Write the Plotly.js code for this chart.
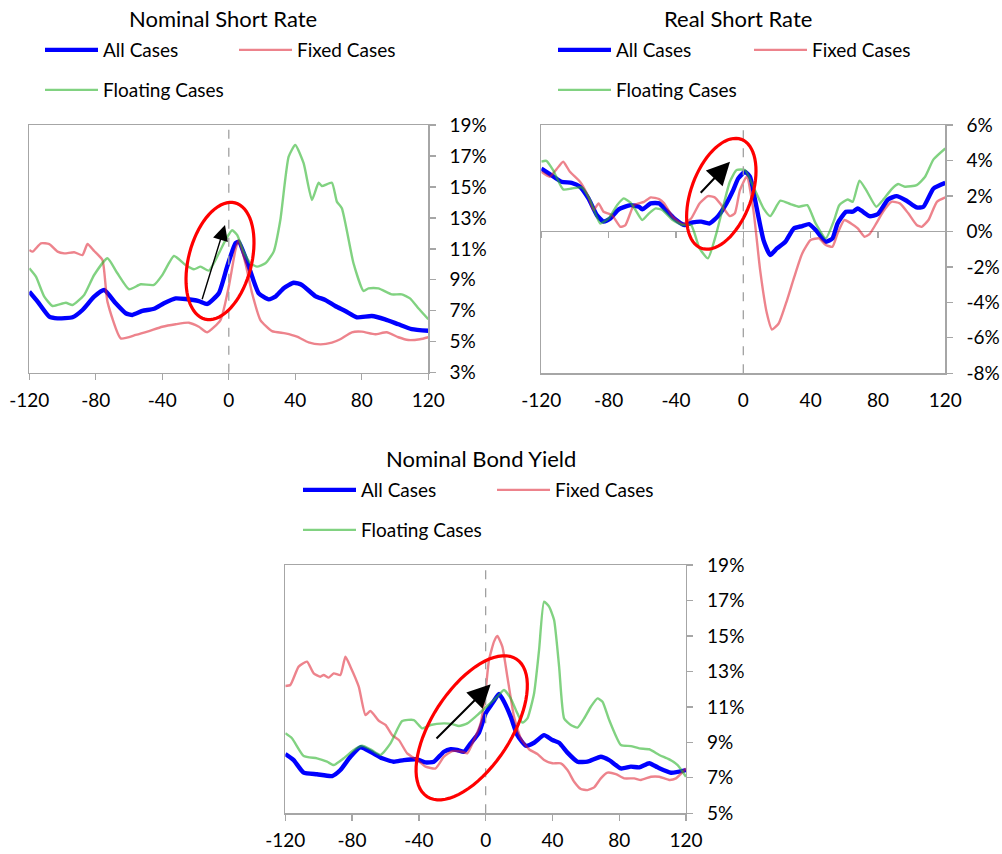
<!DOCTYPE html>
<html>
<head>
<meta charset="utf-8">
<script src="https://cdn.plot.ly/plotly-3.0.1.min.js"></script>
<style>html,body{margin:0;padding:0;background:#fff;}#chart{width:1002px;height:854px;}</style>
</head>
<body>
<div id="chart"></div>
<script>
// ---------- DATA ----------
// Panel 1: Nominal Short Rate (%)
const nsrAllX = [-120,-115,-108,-103,-94,-88,-81,-75,-68,-62,-58,-52,-45,-39,-32,-26,-18,-13,-6,-1,4,6,12,18,24,28,33,39,44,52,58,64,70,77,86,94,102,110,120];
const nsrAllY = [8.23,7.59,6.62,6.51,6.58,7.05,7.91,8.34,7.48,6.84,6.73,6.99,7.13,7.48,7.80,7.76,7.63,7.44,8.13,9.85,11.36,11.46,9.85,8.13,7.74,7.91,8.45,8.81,8.67,7.95,7.70,7.31,6.99,6.58,6.66,6.45,6.13,5.82,5.71];
const nsrFixX = [-120,-118,-113,-108,-103,-99,-93,-88,-85,-81,-76,-73,-65,-56,-48,-40,-32,-24,-18,-13,-5,0,4,6,10,14,19,26,34,41,48,55,62,67,74,80,88,95,102,108,115,120];
const nsrFixY = [10.93,10.82,11.36,11.31,10.82,10.71,10.78,10.60,11.31,10.86,10.28,7.59,5.22,5.44,5.69,5.97,6.13,6.23,5.97,5.61,6.40,8.56,10.93,11.57,10.07,8.13,6.40,5.69,5.54,5.33,4.96,4.83,4.94,5.16,5.61,5.65,5.48,5.61,5.29,5.11,5.16,5.29];
const nsrFloX = [-120,-116,-111,-106,-98,-94,-87,-81,-73,-67,-60,-53,-45,-40,-33,-26,-21,-17,-12,-6,-2,2,5,9,13,17,22,27,31,36,40,45,50,54,56,62,65,68,75,81,84,90,98,104,109,114,120];
const nsrFloY = [9.74,9.20,7.91,7.31,7.52,7.37,8.02,9.31,10.39,9.42,8.39,8.71,8.67,9.31,10.54,9.96,9.68,9.85,9.59,10.71,11.57,12.20,11.90,10.82,10.07,9.85,10.07,10.82,12.86,16.95,17.71,16.53,14.16,15.27,15.06,15.27,14.05,13.62,10.07,8.28,8.45,8.45,8.06,8.06,7.80,7.16,6.45];

// Panel 2: Real Short Rate (%)
const rsrAllX = [-120,-115,-108,-102,-97,-92,-87,-83,-79,-74,-67,-62,-60,-55,-50,-46,-41,-35,-30,-25,-20,-15,-10,-6,-3,1,4,7,12,16,20,25,30,35,39,43,49,53,56,61,65,68,71,75,80,86,91,97,103,107,113,120];
const rsrAllY = [3.55,3.23,2.80,2.74,2.52,1.86,0.92,0.55,0.73,1.24,1.48,1.39,1.24,1.58,1.58,1.20,0.73,0.36,0.51,0.55,0.45,0.86,1.58,2.33,2.99,3.36,3.08,1.77,-0.49,-1.33,-0.96,-0.58,0.17,0.30,0.41,0.08,-0.58,-0.39,0.45,1.11,1.11,1.30,1.11,0.86,0.98,1.80,1.99,1.73,1.35,1.39,2.42,2.74];
const rsrFixX = [-120,-115,-111,-107,-103,-97,-92,-89,-86,-83,-78,-73,-70,-65,-59,-55,-50,-47,-42,-36,-31,-26,-21,-17,-13,-8,-5,-2,2,6,10,14,17,21,26,30,35,40,45,49,53,56,60,64,68,72,75,79,83,88,93,98,103,106,110,115,120];
const rsrFixY = [3.36,3.08,3.50,3.93,3.36,2.80,1.95,1.20,1.58,1.11,0.92,0.26,0.36,1.48,1.67,1.92,1.82,1.58,0.83,0.41,0.73,1.58,1.99,1.92,1.48,0.86,1.02,2.33,3.08,1.20,-2.18,-4.62,-5.53,-5.19,-3.87,-2.65,-1.24,-0.49,-0.39,-0.77,-0.86,-0.11,0.64,0.45,0.17,-0.30,-0.15,0.45,1.11,1.67,1.58,1.02,0.36,0.26,0.64,1.67,1.92];
const rsrFloX = [-120,-117,-113,-107,-102,-96,-91,-85,-80,-75,-71,-67,-64,-60,-56,-52,-48,-42,-36,-31,-26,-21,-16,-12,-8,-4,1,6,12,16,22,28,33,38,43,49,54,57,62,65,69,73,79,83,88,92,96,103,108,113,120];
const rsrFloY = [3.93,3.98,3.46,2.37,2.42,2.48,1.77,0.45,0.73,1.48,1.86,1.62,1.20,0.64,1.02,1.30,1.20,0.64,0.36,0.36,-0.96,-1.52,-0.11,1.39,2.80,3.46,3.46,2.52,1.30,0.86,1.73,1.54,1.39,1.48,0.45,-0.39,0.64,1.48,1.80,1.67,2.86,2.33,1.39,1.77,2.37,2.67,2.52,2.61,3.08,4.06,4.68];

// Panel 3: Nominal Bond Yield (%)
const nbyAllX = [-120,-115,-109,-101,-92,-87,-81,-75,-69,-62,-55,-49,-41,-36,-31,-25,-21,-17,-13,-9,-4,0,4,8,11,15,19,24,29,35,40,44,49,55,61,69,74,81,87,92,98,103,111,120];
const nbyAllY = [8.34,8.00,7.29,7.20,7.10,7.44,8.19,8.72,8.47,8.10,7.91,8.00,8.04,7.87,7.91,8.47,8.61,8.57,8.47,8.94,9.55,10.64,11.20,11.73,11.29,10.45,9.41,8.81,8.98,9.41,9.13,8.98,8.42,7.91,7.91,8.19,8.00,7.53,7.63,7.59,7.82,7.59,7.29,7.44];
const nbyFixX = [-120,-117,-112,-107,-103,-99,-97,-94,-91,-87,-84,-81,-76,-72,-69,-64,-60,-56,-52,-47,-41,-36,-30,-25,-20,-14,-11,-7,-3,0,2,5,7,10,13,17,21,26,31,35,40,45,49,53,57,61,65,69,73,78,83,89,93,99,104,110,114,120];
const nbyFixY = [12.18,12.23,13.27,13.55,12.89,12.70,12.80,12.65,12.89,12.80,13.83,13.27,12.14,10.54,10.77,10.22,9.98,9.41,9.13,8.38,8.00,7.63,7.53,8.19,8.51,8.47,8.38,9.13,10.07,11.95,13.64,14.68,15.00,14.40,12.70,10.45,9.23,8.61,8.34,8.00,7.82,7.82,7.44,6.78,6.37,6.31,6.46,6.97,7.29,7.21,6.97,6.97,6.88,7.06,7.06,6.88,6.97,7.53];
const nbyFloX = [-120,-116,-109,-101,-95,-91,-85,-79,-74,-69,-63,-57,-50,-43,-38,-33,-25,-20,-16,-11,-5,1,7,11,15,19,22,25,29,32,35,38,41,44,47,51,55,59,63,67,70,74,81,87,92,98,104,110,115,120];
const nbyFloY = [9.51,9.23,8.23,8.10,7.91,7.72,8.10,8.57,8.81,8.61,8.29,8.94,10.20,10.26,9.79,9.98,10.07,10.03,9.92,10.07,10.54,11.05,11.58,11.95,11.48,10.64,10.11,10.35,11.76,14.21,16.93,16.65,15.90,13.27,10.35,9.98,9.83,10.35,11.01,11.48,11.29,10.26,8.85,8.79,8.66,8.61,8.29,8.04,7.72,7.06];

const seriesNames = ['All Cases', 'Fixed Cases', 'Floating Cases'];
const xTickVals = [-120,-80,-40,0,40,80,120];
const xTickText = ['-120','-80','-40','0','40','80','120'];
const nomTickVals = [3,5,7,9,11,13,15,17,19];
const nomTickText = ['3%','5%','7%','9%','11%','13%','15%','17%','19%'];
const bondTickVals = [5,7,9,11,13,15,17,19];
const bondTickText = ['5%','7%','9%','11%','13%','15%','17%','19%'];
const realTickVals = [-8,-6,-4,-2,0,2,4,6];
const realTickText = ['-8%','-6%','-4%','-2%','0%','2%','4%','6%'];
const panelTitles = ['Nominal Short Rate', 'Real Short Rate', 'Nominal Bond Yield'];

// ---------- STYLE ----------
const W = 1002, H = 854;
const FONT = 'Lato, "Open Sans", sans-serif';
const blue = '#0000FF';
const pink = 'rgba(222,30,45,0.55)';
const green = 'rgba(45,180,45,0.6)';
const frame = '#A6A6A6';
const px = v => v / W;
const py = v => 1 - v / H;

const panels = [
  {xa:'x',  ya:'y',  x0:29.3,  x1:428.3, y0:125, y1:372.7, title:panelTitles[0], tcx:222.5, tcy:18,
   data:[[nsrAllX,nsrAllY],[nsrFixX,nsrFixY],[nsrFloX,nsrFloY]], yr:[3,19], tv:nomTickVals, tt:nomTickText,
   leg:[[45,50],[239,50],[45,90]]},
  {xa:'x2', ya:'y2', x0:541.3, x1:945.3, y0:125, y1:373.3, title:panelTitles[1], tcx:738, tcy:18,
   data:[[rsrAllX,rsrAllY],[rsrFixX,rsrFixY],[rsrFloX,rsrFloY]], yr:[-8,6], tv:realTickVals, tt:realTickText,
   leg:[[558,50],[754,50],[558,90]]},
  {xa:'x3', ya:'y3', x0:285.3, x1:686, y0:565, y1:813.3, title:panelTitles[2], tcx:480.5, tcy:458,
   data:[[nbyAllX,nbyAllY],[nbyFixX,nbyFixY],[nbyFloX,nbyFloY]], yr:[5,19], tv:bondTickVals, tt:bondTickText,
   leg:[[303,490],[497,490],[303,530]]}
];
const lineStyles = [
  {color: blue, width: 4.4, shape: 'spline', smoothing: 0.5},
  {color: pink, width: 2.4, shape: 'spline', smoothing: 0.5},
  {color: green, width: 2.4, shape: 'spline', smoothing: 0.5}
];

const traces = [];
const layout = {
  width: W, height: H, margin: {l:0, r:0, t:0, b:0},
  paper_bgcolor: '#fff', plot_bgcolor: '#fff',
  font: {family: FONT, size: 19, color: '#000'},
  showlegend: true, shapes: [], annotations: []
};

const LEG_OFFSET = 5; // legend line sample starts 5px inside legend box
let legIdx = 0;
panels.forEach((p, pi) => {
  const sfx = pi === 0 ? '' : String(pi + 1);
  p.data.forEach((d, si) => {
    legIdx++;
    const legName = legIdx === 1 ? 'legend' : 'legend' + legIdx;
    traces.push({
      type: 'scatter', mode: 'lines', x: d[0], y: d[1], name: seriesNames[si],
      xaxis: p.xa, yaxis: p.ya, line: Object.assign({}, lineStyles[si]),
      legend: legName, hoverinfo: 'skip'
    });
    layout[legName] = {
      x: px(p.leg[si][0] - LEG_OFFSET), y: py(p.leg[si][1]), xanchor: 'left', yanchor: 'middle',
      bgcolor: 'rgba(0,0,0,0)', borderwidth: 0, itemwidth: 53,
      font: {family: FONT, size: 19, color: '#000'}
    };
  });
  layout['xaxis' + sfx] = {
    domain: [px(p.x0), px(p.x1)], range: [-120, 120], anchor: 'y' + sfx,
    showline: true, mirror: true, linecolor: frame, linewidth: 1.3,
    ticks: pi === 1 ? '' : 'outside', ticklen: 6, tickcolor: frame, tickwidth: 1.3,
    tickvals: xTickVals, ticktext: xTickText, showgrid: false, zeroline: false,
    ticklabelstandoff: pi === 1 ? 10 : 4, tickfont: {family: FONT, size: 19, color: '#000'}
  };
  layout['yaxis' + sfx] = {
    domain: [py(p.y1), py(p.y0)], range: p.yr, anchor: 'x' + sfx, side: 'right',
    showline: true, mirror: true, linecolor: frame, linewidth: 1.3,
    ticks: 'outside', ticklen: 6, tickcolor: frame, tickwidth: 1.3,
    tickvals: p.tv, ticktext: p.tt, showgrid: false,
    zeroline: pi === 1, zerolinecolor: frame, zerolinewidth: 1.3,
    ticklabelstandoff: 10, tickfont: {family: FONT, size: 19, color: '#000'}
  };
  // dashed line at event month 0
  layout.shapes.push({type:'line', xref:p.xa, yref:p.ya + ' domain', x0:0, x1:0, y0:0, y1:1,
    line:{color:'#A0A0A0', width:1.3, dash:'dash'}});
  layout.annotations.push({text:p.title, xref:'paper', yref:'paper', x:px(p.tcx), y:py(p.tcy),
    xanchor:'center', yanchor:'middle', showarrow:false, font:{family:FONT, size:22, color:'#000'}});
});

// tick marks along the zero line of the real-rate panel
{
  const p = panels[1];
  const dom = layout.yaxis2.domain;
  layout.xaxis4 = {
    overlaying: 'x2', anchor: 'free', range: [-120, 120],
    position: dom[0] + (dom[1] - dom[0]) * (0 - p.yr[0]) / (p.yr[1] - p.yr[0]),
    showline: false, ticks: 'outside', ticklen: 6, tickcolor: frame, tickwidth: 1.3,
    tickvals: xTickVals, showticklabels: false, showgrid: false, zeroline: false
  };
  traces.push({type:'scatter', mode:'lines', x:[], y:[], xaxis:'x4', yaxis:'y2', showlegend:false, hoverinfo:'skip'});
}

// highlighting ellipses (pixel geometry) and arrows
function ellipsePath(cx, cy, a, b, angDeg) {
  const th = angDeg * Math.PI / 180;
  let d = '';
  for (let i = 0; i <= 72; i++) {
    const t = i / 72 * 2 * Math.PI;
    const ex = b * Math.cos(t), ey = a * Math.sin(t);
    const X = cx + ex * Math.cos(th) + ey * Math.sin(th);
    const Y = cy - ex * Math.sin(th) + ey * Math.cos(th);
    d += (i === 0 ? 'M' : 'L') + px(X).toFixed(5) + ',' + py(Y).toFixed(5);
  }
  return d + 'Z';
}
const ellipses = [
  [220, 261, 60, 31.5, 14.5],
  [721.3, 193.8, 58, 30.2, 20.2],
  [471.7, 727.8, 82, 39.6, 33]
];
ellipses.forEach(e => layout.shapes.push({type:'path', xref:'paper', yref:'paper',
  path: ellipsePath(e[0], e[1], e[2], e[3], -e[4]), line:{color:'#FF0000', width:3.2}, fillcolor:'rgba(0,0,0,0)'}));
const arrows = [
  [201.7, 300.7, 225, 225, 1.4, 2.2],
  [699.3, 194.3, 730, 161.7, 2, 2.3],
  [435, 740, 490.7, 684.3, 2, 2.3]
];
arrows.forEach(a => layout.annotations.push({text:'', xref:'paper', yref:'paper', x:px(a[2]), y:py(a[3]),
  ax: a[0] - a[2], ay: a[1] - a[3], axref:'pixel', ayref:'pixel', showarrow:true, arrowhead:2, arrowsize:a[5],
  arrowwidth:a[4], arrowcolor:'#000', standoff:0}));

Plotly.newPlot('chart', traces, layout, {staticPlot: true, displayModeBar: false});
</script>
</body>
</html>
